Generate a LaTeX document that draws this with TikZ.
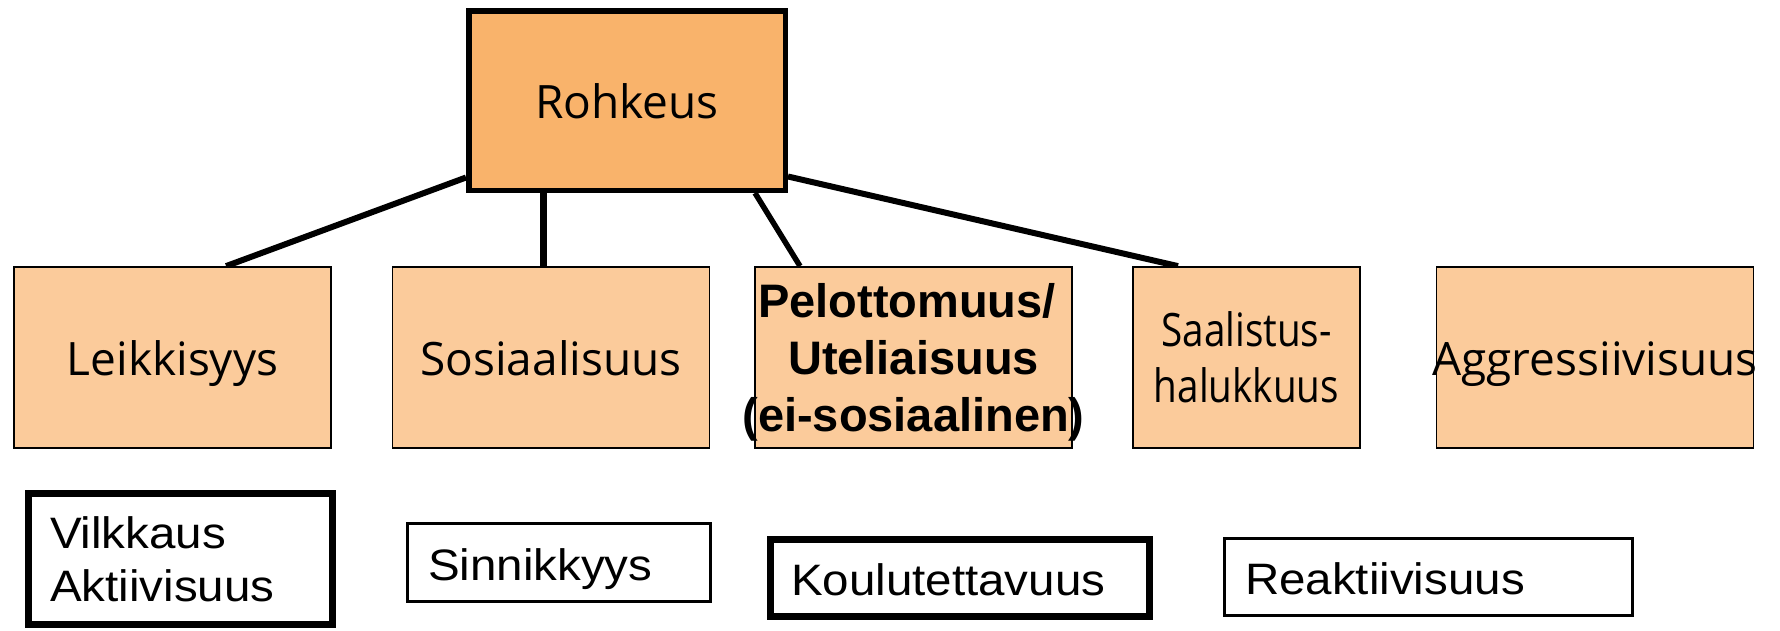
\documentclass[tikz,border=0pt]{standalone}
\usepackage{fontspec}
\newfontfamily\topfont{Open Sans}
\newfontfamily\toptight[FakeStretch=0.84]{Open Sans}
\newfontfamily\botfont[FakeStretch=1.08]{Liberation Sans}
\newfontfamily\pelfont{Liberation Sans}
\usetikzlibrary{calc,backgrounds}
\definecolor{rohkfill}{RGB}{249,179,107}
\definecolor{traitfill}{RGB}{251,203,155}
\begin{document}
\begin{tikzpicture}[x=1pt,y=-1pt,
  rootbox/.style={draw, line width=5.5pt, fill=rohkfill, minimum width=316.5pt, minimum height=179.5pt, inner sep=0pt},
  traitbox/.style={draw, line width=1.8pt, fill=traitfill, minimum width=317pt, minimum height=181pt, inner sep=0pt},
  toptext/.style={inner sep=0pt, font=\topfont\fontsize{46}{56}\selectfont, text height=35pt, text depth=0pt},
  topmulti/.style={inner sep=0pt, align=center},
  botbox/.style={draw, fill=white, inner ysep=0pt, inner xsep=20.5pt, align=left, font=\botfont\fontsize{44}{53}\selectfont},
  botsingle/.style={botbox, text height=35pt, text depth=0pt},
  link/.style={line width=6pt, line cap=butt}
]
\useasboundingbox (0,0) rectangle (1780,630);

% root
\node[rootbox] (rohk) at (627,100.5) {};
\node[toptext] (rohkT) at (rohk.center) {Rohkeus};

% trait boxes
\node[traitbox] (leik) at (172.5,357.5) {};
\node[toptext] (leikT) at (leik.center) {Leikkisyys};
\node[traitbox] (sos) at (551,357.5) {};
\node[toptext] (sosT) at (sos.center) {Sosiaalisuus};
\node[traitbox] (pel) at (913.5,357.5) {};
\node[topmulti, font=\pelfont\bfseries\fontsize{47}{57}\selectfont] (pelT) at ($(pel.center)+(0,5.3)$) {Pelottomuus/\hspace*{0.28em}\\Uteliaisuus\\(ei-sosiaalinen)};
\node[traitbox, minimum width=227pt] (saal) at (1246.5,357.5) {};
\node[topmulti, font=\toptight\fontsize{46}{56}\selectfont] (saalT) at (saal.center) {Saalistus-\\halukkuus};
\node[traitbox] (aggr) at (1595,357.5) {};
\node[toptext] (aggrT) at (aggr.center) {Aggressiivisuus};

% bottom boxes
\node[botbox, line width=7pt, inner xsep=21.5pt, text width=261pt, minimum height=131pt] (vilk) at (180.5,559) {Vilkkaus\\Aktiivisuus};
\node[botsingle, line width=3pt, text width=262pt, minimum height=78pt] (sinn) at (559,562.5) {Sinnikkyys};
\node[botsingle, line width=7pt, text width=338pt, minimum height=77pt] (koul) at (960,578) {Koulutettavuus};
\node[botsingle, line width=3pt, text width=367pt, minimum height=77pt] (reak) at (1428.5,577) {Reaktiivisuus};

% connectors
\begin{scope}[on background layer]
\draw[link] ($(rohk.west)+(0,77)$) -- ($(leik.north west)+(213,0)$);
\draw[link, line width=7pt] ($(rohk.south)+(-83.5,0)$) -- ($(sos.north)+(-7.5,0)$);
\draw[link, line width=5.5pt] ($(rohk.south)+(128,0)$) -- ($(pel.north)+(-113.5,0)$);
\draw[link] ($(rohk.east)+(0,76)$) -- ($(saal.north)+(-68.5,0)$);
\end{scope}
\end{tikzpicture}
\end{document}
